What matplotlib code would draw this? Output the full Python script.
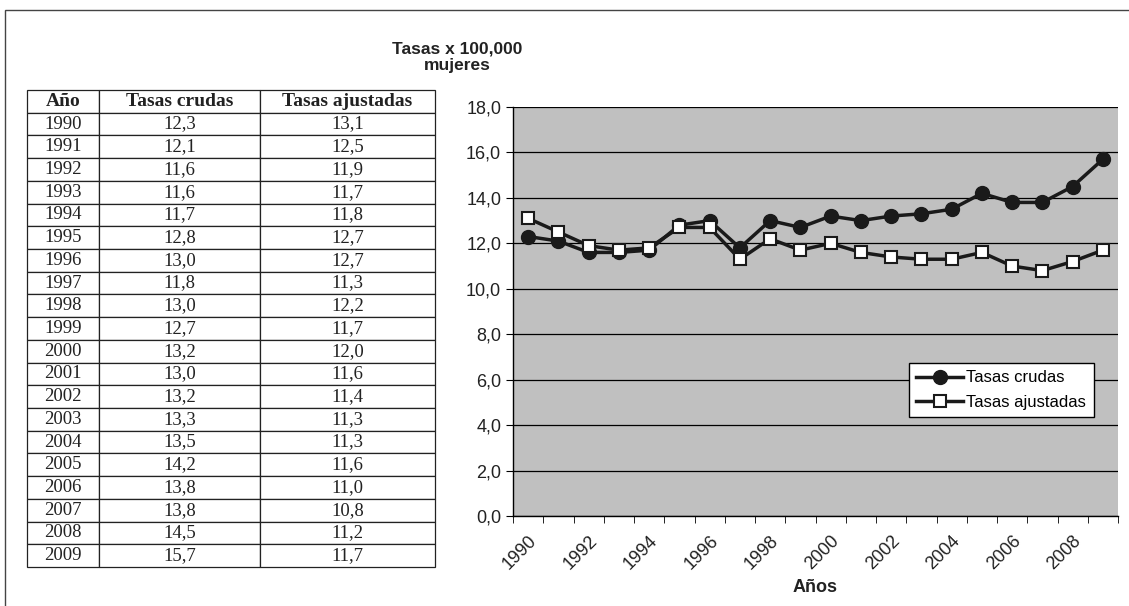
import numpy as np
import matplotlib.pyplot as plt
from matplotlib.patches import Rectangle
from matplotlib.ticker import FixedLocator, FuncFormatter
from matplotlib.transforms import ScaledTranslation

plt.rcParams['font.family'] = ['Liberation Sans', 'DejaVu Sans']

years = [1990, 1991, 1992, 1993, 1994, 1995, 1996, 1997, 1998, 1999,
         2000, 2001, 2002, 2003, 2004, 2005, 2006, 2007, 2008, 2009]
crudas = [12.3, 12.1, 11.6, 11.6, 11.7, 12.8, 13.0, 11.8, 13.0, 12.7,
          13.2, 13.0, 13.2, 13.3, 13.5, 14.2, 13.8, 13.8, 14.5, 15.7]
ajustadas = [13.1, 12.5, 11.9, 11.7, 11.8, 12.7, 12.7, 11.3, 12.2, 11.7,
             12.0, 11.6, 11.4, 11.3, 11.3, 11.6, 11.0, 10.8, 11.2, 11.7]
col_labels = ["Año", "Tasas crudas", "Tasas ajustadas"]
title = "Tasas x 100,000\nmujeres"

W, H = 1129, 606
fig = plt.figure(figsize=(W / 100, H / 100), dpi=100)


def fx(px):
    return px / W


def fy(py):
    return 1 - py / H


# outer frame
fig.patches.append(Rectangle((fx(5), -0.01), 1.2, fy(10) + 0.01, transform=fig.transFigure,
                             fill=False, edgecolor='#444444', linewidth=1.0))

# ---- table ----
tab_ax = fig.add_axes([fx(27), fy(567), fx(435) - fx(27), fy(90) - fy(567)])
tab_ax.axis('off')
cell_text = [[str(y), f"{c:.1f}".replace('.', ','), f"{a:.1f}".replace('.', ',')]
             for y, c, a in zip(years, crudas, ajustadas)]
colw = np.array([72, 161, 175], dtype=float)
tbl = tab_ax.table(cellText=cell_text, colLabels=col_labels, cellLoc='center',
                   colWidths=list(colw / colw.sum()), bbox=[0, 0, 1, 1])
tbl.auto_set_font_size(False)
for (r, c), cell in tbl.get_celld().items():
    cell.set_linewidth(0.9)
    cell.set_edgecolor('#222222')
    txt = cell.get_text()
    txt.set_fontfamily('Liberation Serif')
    txt.set_color('#222222')
    if r == 0:
        txt.set_fontweight('bold')
        txt.set_fontsize(14)
    else:
        txt.set_fontsize(13.5)

# ---- title ----
fig.text(fx(457), fy(57), title, ha='center', va='center', fontsize=12.5,
         fontweight='bold', color='#222222', linespacing=1.15)

# ---- chart ----
ax = fig.add_axes([fx(513), fy(516), fx(1118) - fx(513), fy(107) - fy(516)])
ax.set_facecolor('#c0c0c0')
x = np.arange(len(years))
ax.set_xlim(-0.5, len(years) - 0.5)
ax.set_ylim(0, 18)
ax.set_yticks(np.arange(0, 18.1, 2))
ax.yaxis.set_major_formatter(FuncFormatter(lambda v, p: f"{v:.1f}".replace('.', ',')))
ax.grid(axis='y', color='black', linewidth=0.9)
ax.set_axisbelow(True)

ax.plot(x, crudas, color='#1a1a1a', linewidth=2.5, marker='o', markersize=10,
        markerfacecolor='#1a1a1a', markeredgecolor='#1a1a1a', label='Tasas crudas', zorder=3)
ax.plot(x, ajustadas, color='#1a1a1a', linewidth=2.5, marker='s', markersize=9,
        markerfacecolor='white', markeredgecolor='#1a1a1a', markeredgewidth=1.5,
        label='Tasas ajustadas', zorder=3)

# category ticks between points, labels every other year
ax.xaxis.set_major_locator(FixedLocator(x[::2]))
ax.set_xticklabels([str(y) for y in years[::2]], rotation=45, ha='right',
                   rotation_mode='anchor', fontsize=13, color='#222222')
shift = ScaledTranslation(0.04, 0, fig.dpi_scale_trans)
for lab in ax.get_xticklabels():
    lab.set_transform(lab.get_transform() + shift)
ax.xaxis.set_minor_locator(FixedLocator(np.arange(-0.5, len(years), 1)))
ax.tick_params(axis='x', which='major', length=0, pad=12)
ax.tick_params(axis='x', which='minor', length=5, color='black')
ax.tick_params(axis='y', length=5, labelsize=13, labelcolor='#222222')
for s in ['top', 'right']:
    ax.spines[s].set_visible(False)
ax.spines['left'].set_linewidth(1.0)
ax.spines['bottom'].set_linewidth(1.0)
ax.set_xlabel('Años', fontsize=13, fontweight='bold', color='#222222', va='center')
ax.xaxis.set_label_coords(0.5, -0.174)

leg = ax.legend(loc='lower right', bbox_to_anchor=(0.960, 0.242), borderaxespad=0,
                frameon=True, fancybox=False, fontsize=12, handlelength=2.8,
                borderpad=0.45, labelspacing=0.55, handletextpad=0.2)
leg.get_frame().set_edgecolor('black')
leg.get_frame().set_linewidth(1.0)
leg.get_frame().set_facecolor('white')
leg.get_frame().set_alpha(1)

fig.savefig('out.png', dpi=100)
